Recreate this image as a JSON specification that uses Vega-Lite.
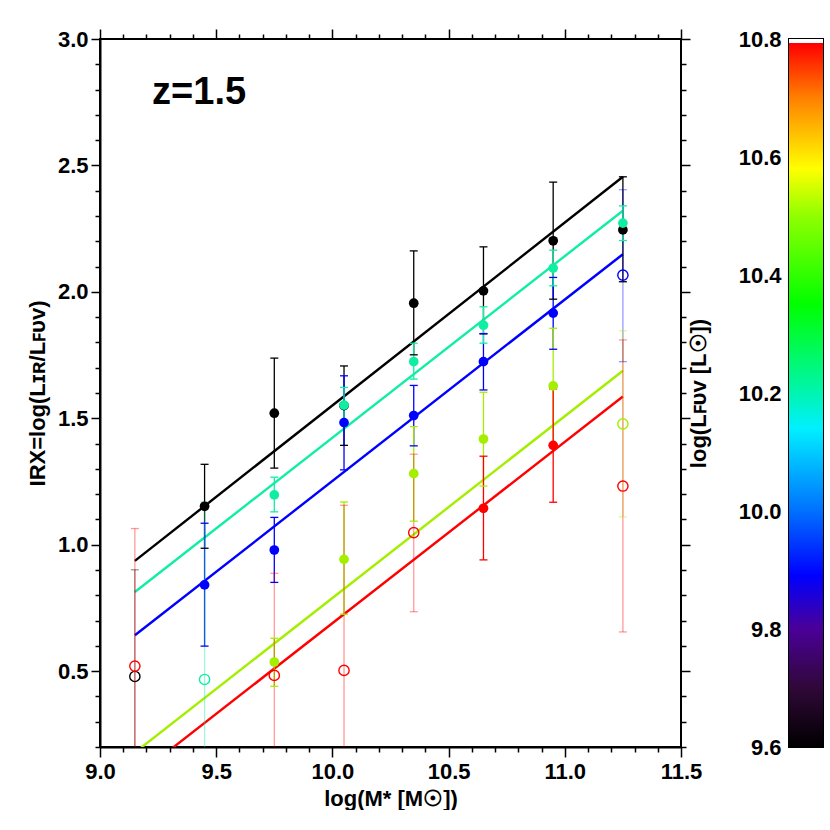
{
  "$schema": "https://vega.github.io/schema/vega-lite/v6.json",
  "background": "white",
  "padding": {"left": 25, "top": 27, "right": 0, "bottom": 0},
  "spacing": 108,
  "bounds": "flush",
  "datasets": {
    "pts": [
      {"series": "black", "x": 9.15, "y": 0.479, "lo": -0.3, "hi": 0.901, "f": "open"},
      {"series": "black", "x": 9.45, "y": 1.152, "lo": 0.986, "hi": 1.318, "f": "filled"},
      {"series": "black", "x": 9.75, "y": 1.520, "lo": 1.303, "hi": 1.738, "f": "filled"},
      {"series": "black", "x": 10.05, "y": 1.550, "lo": 1.393, "hi": 1.707, "f": "filled"},
      {"series": "black", "x": 10.35, "y": 1.955, "lo": 1.751, "hi": 2.162, "f": "filled"},
      {"series": "black", "x": 10.65, "y": 2.004, "lo": 1.834, "hi": 2.178, "f": "filled"},
      {"series": "black", "x": 10.95, "y": 2.202, "lo": 1.971, "hi": 2.434, "f": "filled"},
      {"series": "black", "x": 11.25, "y": 2.245, "lo": 2.040, "hi": 2.455, "f": "filled"},
      {"series": "blue", "x": 9.45, "y": 0.841, "lo": 0.599, "hi": 1.085, "f": "filled"},
      {"series": "blue", "x": 9.75, "y": 0.979, "lo": 0.851, "hi": 1.108, "f": "filled"},
      {"series": "blue", "x": 10.05, "y": 1.483, "lo": 1.296, "hi": 1.668, "f": "filled"},
      {"series": "blue", "x": 10.35, "y": 1.511, "lo": 1.391, "hi": 1.630, "f": "filled"},
      {"series": "blue", "x": 10.65, "y": 1.724, "lo": 1.612, "hi": 1.835, "f": "filled"},
      {"series": "blue", "x": 10.95, "y": 1.916, "lo": 1.773, "hi": 2.057, "f": "filled"},
      {"series": "blue", "x": 11.25, "y": 2.066, "lo": 1.724, "hi": 2.404, "f": "open"},
      {"series": "cyan", "x": 9.45, "y": 0.467, "lo": -0.24, "hi": 1.169, "f": "open"},
      {"series": "cyan", "x": 9.75, "y": 1.197, "lo": 1.130, "hi": 1.267, "f": "filled"},
      {"series": "cyan", "x": 10.05, "y": 1.552, "lo": 1.480, "hi": 1.622, "f": "filled"},
      {"series": "cyan", "x": 10.35, "y": 1.724, "lo": 1.655, "hi": 1.797, "f": "filled"},
      {"series": "cyan", "x": 10.65, "y": 1.868, "lo": 1.797, "hi": 1.941, "f": "filled"},
      {"series": "cyan", "x": 10.95, "y": 2.094, "lo": 2.024, "hi": 2.165, "f": "filled"},
      {"series": "cyan", "x": 11.25, "y": 2.272, "lo": 2.203, "hi": 2.340, "f": "filled"},
      {"series": "yellowgreen", "x": 9.75, "y": 0.536, "lo": 0.440, "hi": 0.630, "f": "filled"},
      {"series": "yellowgreen", "x": 10.05, "y": 0.942, "lo": 0.725, "hi": 1.169, "f": "filled"},
      {"series": "yellowgreen", "x": 10.35, "y": 1.281, "lo": 1.093, "hi": 1.467, "f": "filled"},
      {"series": "yellowgreen", "x": 10.65, "y": 1.418, "lo": 1.232, "hi": 1.603, "f": "filled"},
      {"series": "yellowgreen", "x": 10.95, "y": 1.628, "lo": 1.400, "hi": 1.856, "f": "filled"},
      {"series": "yellowgreen", "x": 11.25, "y": 1.478, "lo": 1.110, "hi": 1.846, "f": "open"},
      {"series": "red", "x": 9.15, "y": 0.520, "lo": -0.03, "hi": 1.064, "f": "open"},
      {"series": "red", "x": 9.75, "y": 0.483, "lo": 0.08, "hi": 0.887, "f": "open"},
      {"series": "red", "x": 10.05, "y": 0.503, "lo": -0.15, "hi": 1.156, "f": "open"},
      {"series": "red", "x": 10.35, "y": 1.048, "lo": 0.735, "hi": 1.358, "f": "open"},
      {"series": "red", "x": 10.65, "y": 1.144, "lo": 0.940, "hi": 1.350, "f": "filled"},
      {"series": "red", "x": 10.95, "y": 1.393, "lo": 1.168, "hi": 1.616, "f": "filled"},
      {"series": "red", "x": 11.25, "y": 1.232, "lo": 0.655, "hi": 1.810, "f": "open"}
    ],
    "fits": [
      {"series": "black", "x": 9.15, "y": 0.936},
      {"series": "black", "x": 11.25, "y": 2.455},
      {"series": "cyan", "x": 9.15, "y": 0.813},
      {"series": "cyan", "x": 11.25, "y": 2.321},
      {"series": "blue", "x": 9.15, "y": 0.642},
      {"series": "blue", "x": 11.25, "y": 2.149},
      {"series": "yellowgreen", "x": 9.15, "y": 0.178},
      {"series": "yellowgreen", "x": 11.25, "y": 1.688},
      {"series": "red", "x": 9.15, "y": 0.080},
      {"series": "red", "x": 11.25, "y": 1.586}
    ]
  },
  "hconcat": [
    {
      "width": 581,
      "height": 708,
      "layer": [
        {
          "data": {"name": "fits"},
          "mark": {"type": "line", "clip": true, "strokeWidth": 2.4},
          "encoding": {
            "x": {
              "field": "x", "type": "quantitative",
              "scale": {"domain": [9.0, 11.5], "nice": false, "zero": false},
              "axis": {
                "orient": "bottom",
                "values": [9.0, 9.5, 10.0, 10.5, 11.0, 11.5],
                "format": ".1f",
                "ticks": true, "tickSize": 10, "tickColor": "black", "tickWidth": 1.5,
                "labelPadding": 4,
                "labelFlush": false, "labelOverlap": false, "labelBound": false,
                "grid": false,
                "domainColor": "black", "domainWidth": 2,
                "labelFont": "Liberation Sans", "labelFontSize": 22, "labelFontWeight": "bold", "labelColor": "black",
                "title": "log(M* [M☉])", "titleFont": "Liberation Sans", "titleFontSize": 22, "titleFontWeight": "bold", "titleColor": "black", "titlePadding": 6
              }
            },
            "y": {
              "field": "y", "type": "quantitative",
              "scale": {"domain": [0.2, 3.0], "nice": false, "zero": false},
              "axis": {
                "orient": "left",
                "values": [0.5, 1.0, 1.5, 2.0, 2.5, 3.0],
                "format": ".1f",
                "ticks": true, "tickSize": 9, "tickColor": "black", "tickWidth": 1.5,
                "labelPadding": 3,
                "labelFlush": false, "labelOverlap": false, "labelBound": false,
                "grid": false,
                "domainColor": "black", "domainWidth": 2,
                "labelFont": "Liberation Sans", "labelFontSize": 22, "labelFontWeight": "bold", "labelColor": "black",
                "title": "IRX=log(Lɪʀ/Lꜰᴜᴠ)", "titleFont": "Liberation Sans", "titleFontSize": 22, "titleFontWeight": "bold", "titleColor": "black", "titlePadding": 8
              }
            },
            "color": {
              "field": "series", "type": "nominal",
              "scale": {"domain": ["black", "blue", "cyan", "yellowgreen", "red"], "range": ["#000000", "#0000ff", "#10eea4", "#a4ee00", "#ff0000"]},
              "legend": null
            },
            "detail": {"field": "series"}
          }
        },
        {
          "data": {"name": "pts"},
          "mark": {"type": "rule", "clip": true, "strokeWidth": 1.3},
          "encoding": {
            "x": {
              "field": "x", "type": "quantitative",
              "axis": {
                "orient": "bottom", "ticks": true, "tickSize": 5,
                "values": [9.1,9.2,9.3,9.4,9.6,9.7,9.8,9.9,10.1,10.2,10.3,10.4,10.6,10.7,10.8,10.9,11.1,11.2,11.3,11.4],
                "labels": false, "domain": false, "grid": false, "title": null,
                "tickColor": "black", "tickWidth": 1.5
              }
            },
            "y": {
              "field": "lo", "type": "quantitative",
              "axis": {
                "orient": "left", "ticks": true, "tickSize": 5,
                "values": [0.2,0.3,0.4,0.6,0.7,0.8,0.9,1.1,1.2,1.3,1.4,1.6,1.7,1.8,1.9,2.1,2.2,2.3,2.4,2.6,2.7,2.8,2.9],
                "labels": false, "domain": false, "grid": false, "title": null,
                "tickColor": "black", "tickWidth": 1.5
              }
            },
            "y2": {"field": "hi"},
            "color": {"field": "series", "type": "nominal", "legend": null},
            "opacity": {"field": "f", "type": "nominal", "scale": {"domain": ["filled", "open"], "range": [1, 0.4]}, "legend": null}
          }
        },
        {
          "data": {"name": "pts"},
          "mark": {"type": "tick", "clip": true, "orient": "horizontal", "size": 8, "thickness": 1.3},
          "encoding": {
            "x": {
              "field": "x", "type": "quantitative",
              "axis": {
                "orient": "top", "ticks": true, "tickSize": 10,
                "values": [9.0, 9.5, 10.0, 10.5, 11.0, 11.5],
                "labels": false, "domain": false, "grid": false, "title": null,
                "tickColor": "black", "tickWidth": 1.5
              }
            },
            "y": {
              "field": "lo", "type": "quantitative",
              "axis": {
                "orient": "right", "ticks": true, "tickSize": 9,
                "values": [0.5, 1.0, 1.5, 2.0, 2.5, 3.0],
                "labels": false, "domain": false, "grid": false, "title": null,
                "tickColor": "black", "tickWidth": 1.5
              }
            },
            "color": {"field": "series", "type": "nominal", "legend": null},
            "opacity": {"field": "f", "type": "nominal", "scale": {"domain": ["filled", "open"], "range": [1, 0.4]}, "legend": null}
          }
        },
        {
          "data": {"name": "pts"},
          "mark": {"type": "tick", "clip": true, "orient": "horizontal", "size": 8, "thickness": 1.3},
          "encoding": {
            "x": {
              "field": "x", "type": "quantitative",
              "axis": {
                "orient": "top", "ticks": true, "tickSize": 5,
                "values": [9.1,9.2,9.3,9.4,9.6,9.7,9.8,9.9,10.1,10.2,10.3,10.4,10.6,10.7,10.8,10.9,11.1,11.2,11.3,11.4],
                "labels": false, "domain": false, "grid": false, "title": null,
                "tickColor": "black", "tickWidth": 1.5
              }
            },
            "y": {
              "field": "hi", "type": "quantitative",
              "axis": {
                "orient": "right", "ticks": true, "tickSize": 5,
                "values": [0.2,0.3,0.4,0.6,0.7,0.8,0.9,1.1,1.2,1.3,1.4,1.6,1.7,1.8,1.9,2.1,2.2,2.3,2.4,2.6,2.7,2.8,2.9],
                "labels": false, "domain": false, "grid": false, "title": null,
                "tickColor": "black", "tickWidth": 1.5
              }
            },
            "color": {"field": "series", "type": "nominal", "legend": null},
            "opacity": {"field": "f", "type": "nominal", "scale": {"domain": ["filled", "open"], "range": [1, 0.4]}, "legend": null}
          }
        },
        {
          "data": {"name": "pts"},
          "transform": [{"filter": "datum.f == 'filled'"}],
          "mark": {"type": "circle", "clip": true, "size": 95, "opacity": 1},
          "encoding": {
            "x": {"field": "x", "type": "quantitative", "axis": null},
            "y": {"field": "y", "type": "quantitative", "axis": null},
            "color": {"field": "series", "type": "nominal", "legend": null}
          }
        },
        {
          "data": {"name": "pts"},
          "transform": [{"filter": "datum.f == 'open'"}],
          "mark": {"type": "point", "shape": "circle", "filled": false, "clip": true, "size": 105, "strokeWidth": 1.4, "opacity": 1},
          "encoding": {
            "x": {"field": "x", "type": "quantitative", "axis": null},
            "y": {"field": "y", "type": "quantitative", "axis": null},
            "color": {"field": "series", "type": "nominal", "legend": null}
          }
        },
        {
          "data": {"values": [{"x": 9.224, "y": 2.743, "label": "z=1.5"}]},
          "mark": {"type": "text", "align": "left", "baseline": "alphabetic", "font": "Liberation Sans", "fontSize": 38, "fontWeight": "bold", "color": "black"},
          "encoding": {
            "x": {"field": "x", "type": "quantitative", "axis": null},
            "y": {"field": "y", "type": "quantitative", "axis": null},
            "text": {"field": "label"}
          }
        }
      ],
      "resolve": {"axis": {"x": "independent", "y": "independent"}}
    },
    {
      "width": 34,
      "height": 708,
      "data": {"values": [{"x0": 0, "x1": 1, "lo": 9.6, "hi": 10.8}]},
      "mark": {
        "type": "rect",
        "fill": {
          "gradient": "linear", "x1": 0, "y1": 1, "x2": 0, "y2": 0,
          "stops": [
            {"offset": 0, "color": "#000000"},
            {"offset": 0.083, "color": "#300838"},
            {"offset": 0.167, "color": "#4a0098"},
            {"offset": 0.242, "color": "#0000ff"},
            {"offset": 0.333, "color": "#0070ff"},
            {"offset": 0.45, "color": "#00f0ff"},
            {"offset": 0.5, "color": "#00f5b0"},
            {"offset": 0.625, "color": "#00ff00"},
            {"offset": 0.75, "color": "#90ff00"},
            {"offset": 0.817, "color": "#ffff00"},
            {"offset": 0.917, "color": "#ff8000"},
            {"offset": 0.994, "color": "#ff0000"},
            {"offset": 0.995, "color": "#ffffff"},
            {"offset": 1, "color": "#ffffff"}
          ]
        }
      },
      "encoding": {
        "x": {"field": "x0", "type": "quantitative", "scale": {"domain": [0, 1]}, "axis": null},
        "x2": {"field": "x1"},
        "y": {
          "field": "lo", "type": "quantitative",
          "scale": {"domain": [9.6, 10.8], "nice": false, "zero": false},
          "axis": {
            "orient": "left",
            "values": [9.6, 9.8, 10.0, 10.2, 10.4, 10.6, 10.8],
            "format": ".1f",
            "ticks": false, "domain": false,
            "labelPadding": 8,
            "labelFlush": false, "labelOverlap": false, "labelBound": false,
            "grid": false,
            "labelFont": "Liberation Sans", "labelFontSize": 22, "labelFontWeight": "bold", "labelColor": "black",
            "title": "log(Lꜰᴜᴠ [L☉])", "titleFont": "Liberation Sans", "titleFontSize": 22, "titleFontWeight": "bold", "titleColor": "black", "titlePadding": 28
          }
        },
        "y2": {"field": "hi"}
      }
    }
  ],
  "config": {
    "view": {"stroke": "black", "strokeWidth": 2},
    "font": "Liberation Sans"
  }
}
